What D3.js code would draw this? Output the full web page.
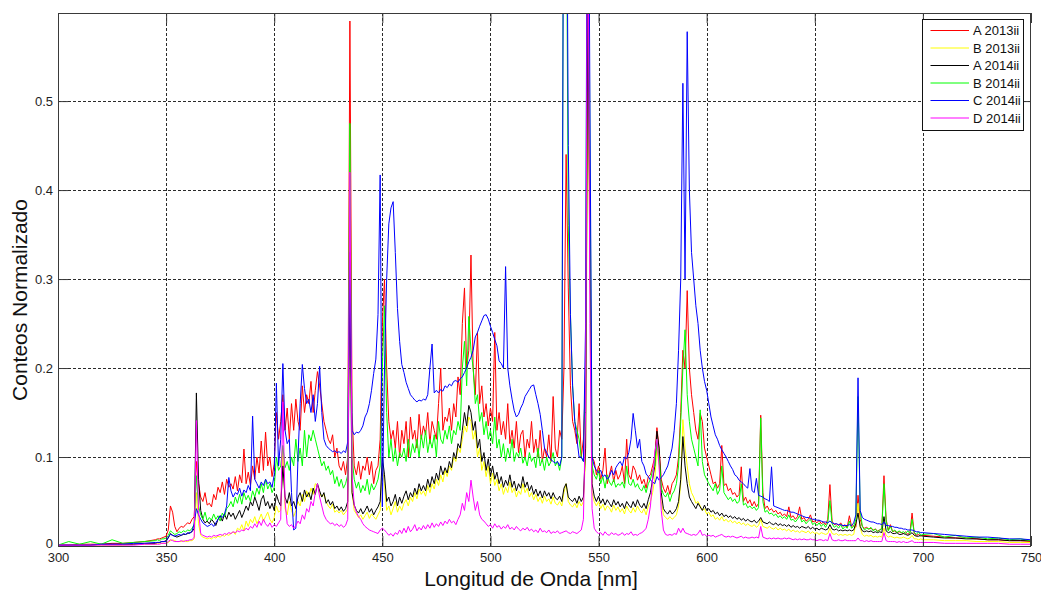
<!DOCTYPE html>
<html>
<head>
<meta charset="utf-8">
<script src="https://cdn.jsdelivr.net/npm/d3@7"></script>
<style>
  body { margin: 0; background: #fff; }
  svg { display: block; }
  text { font-family: "Liberation Sans", Arial, sans-serif; }
</style>
</head>
<body>
<svg id="chart" width="1041" height="591"></svg>
<script>
// Wavelength samples [nm]: coarse at the ends, 1 nm through the emission region
const wlLow = [300, 305, 310, 315, 320, 325, 330, 335, 340, 345];
const wlHigh = [705, 710, 715, 720, 725, 730, 735, 740, 745, 750];
const wavelength = wlLow.concat(d3.range(346, 701), wlHigh);

const seriesNames = ["A 2013ii", "B 2013ii", "A 2014ii", "B 2014ii", "C 2014ii", "D 2014ii"];
const seriesColors = ["#ff0000", "#ffff00", "#000000", "#00ff00", "#0000ff", "#ff00ff"];

const xTicks = [300, 350, 400, 450, 500, 550, 600, 650, 700, 750];
const yTicks = [0, 0.1, 0.2, 0.3, 0.4, 0.5];
const yTickLabels = ["0", "0.1", "0.2", "0.3", "0.4", "0.5"];

// Normalised counts, one value per wavelength sample
const a2013 = [
  0.001,0.001,0.002,0.002,0.002,0.003,0.003,0.004,0.005,0.007,
  0.008,0.008,0.009,0.010,
  0.011,0.018,0.045,0.038,0.022,0.016,0.02,0.022,0.021,0.024,
  0.026,0.025,0.03,0.033,0.095,0.07,0.055,0.05,0.06,0.046,
  0.048,0.044,0.058,0.052,0.066,0.06,0.072,0.058,0.075,0.066,
  0.07,0.064,0.078,0.062,0.08,0.071,0.109,0.07,0.083,0.068,
  0.09,0.075,0.1,0.082,0.118,0.085,0.128,0.09,0.1,0.078,
  0.092,0.15,0.12,0.14,0.17,0.13,0.155,0.12,0.16,0.13,
  0.165,0.14,0.13,0.18,0.15,0.17,0.16,0.185,0.15,0.175,
  0.196,0.18,0.16,0.14,0.13,0.12,0.115,0.125,0.1,0.11,
  0.09,0.085,0.095,0.08,0.1,0.59,0.15,0.09,0.08,0.095,
  0.075,0.09,0.085,0.1,0.08,0.095,0.07,0.085,0.09,0.12,
  0.25,0.3,0.2,0.14,0.12,0.13,0.11,0.14,0.1,0.13,
  0.115,0.14,0.1,0.145,0.12,0.13,0.11,0.148,0.12,0.135,
  0.125,0.15,0.115,0.14,0.13,0.12,0.16,0.2,0.13,0.145,
  0.14,0.155,0.13,0.16,0.145,0.19,0.17,0.25,0.29,0.2,
  0.22,0.327,0.2,0.17,0.24,0.16,0.18,0.145,0.16,0.135,
  0.155,0.14,0.24,0.13,0.15,0.125,0.14,0.12,0.16,0.115,
  0.13,0.11,0.14,0.105,0.125,0.13,0.1,0.12,0.11,0.14,
  0.105,0.12,0.1,0.13,0.095,0.11,0.1,0.125,0.095,0.168,
  0.11,0.1,0.13,0.12,0.2,0.44,0.29,0.18,0.14,0.13,
  0.115,0.16,0.1,0.12,0.19,0.7,0.35,0.1,0.095,0.08,
  0.09,0.075,0.085,0.11,0.07,0.08,0.09,0.072,0.085,0.075,
  0.08,0.09,0.07,0.12,0.08,0.075,0.09,0.085,0.074,0.08,
  0.07,0.075,0.065,0.078,0.08,0.09,0.1,0.133,0.11,0.075,
  0.065,0.06,0.068,0.058,0.07,0.074,0.08,0.1,0.15,0.22,
  0.2,0.287,0.2,0.17,0.15,0.13,0.12,0.149,0.14,0.11,
  0.1,0.09,0.08,0.07,0.072,0.065,0.07,0.113,0.068,0.07,
  0.062,0.065,0.058,0.06,0.055,0.058,0.089,0.05,0.055,0.048,
  0.052,0.045,0.05,0.044,0.048,0.147,0.06,0.042,0.045,0.04,
  0.042,0.038,0.04,0.036,0.038,0.034,0.036,0.033,0.044,0.032,
  0.034,0.03,0.033,0.044,0.03,0.032,0.028,0.03,0.035,0.027,
  0.028,0.026,0.029,0.025,0.027,0.024,0.03,0.069,0.028,0.024,
  0.025,0.023,0.026,0.022,0.024,0.021,0.034,0.022,0.023,0.021,
  0.057,0.03,0.022,0.02,0.021,0.019,0.02,0.018,0.019,0.017,
  0.018,0.02,0.079,0.03,0.018,0.024,0.016,0.017,0.015,0.016,
  0.015,0.014,0.016,0.013,0.015,0.037,0.014,0.012,0.013,0.011,
  0.012,
  0.011,0.01,0.009,0.009,0.008,0.007,0.007,0.006,0.006,0.005
];

const b2013 = [
  0.001,0.001,0.001,0.001,0.001,0.001,0.001,0.002,0.002,0.002,
  0.003,0.003,0.003,0.003,
  0.003,0.004,0.006,0.007,0.006,0.005,0.005,0.005,0.006,0.005,
  0.005,0.006,0.006,0.008,0.06,0.025,0.012,0.01,0.009,0.008,
  0.009,0.008,0.01,0.009,0.011,0.01,0.012,0.011,0.013,0.012,
  0.014,0.016,0.013,0.02,0.018,0.024,0.017,0.028,0.022,0.03,
  0.026,0.033,0.025,0.03,0.036,0.028,0.033,0.038,0.03,0.026,
  0.032,0.045,0.038,0.04,0.11,0.042,0.035,0.05,0.04,0.033,
  0.04,0.05,0.045,0.058,0.05,0.062,0.055,0.065,0.058,0.07,
  0.068,0.06,0.055,0.058,0.05,0.045,0.042,0.047,0.038,0.04,
  0.037,0.04,0.035,0.038,0.042,0.35,0.06,0.04,0.036,0.032,
  0.035,0.03,0.034,0.038,0.031,0.036,0.033,0.03,0.035,0.04,
  0.09,0.07,0.04,0.045,0.035,0.042,0.05,0.038,0.045,0.04,
  0.048,0.052,0.045,0.055,0.05,0.06,0.053,0.064,0.058,0.062,
  0.056,0.068,0.06,0.07,0.064,0.075,0.068,0.08,0.072,0.085,
  0.078,0.09,0.085,0.1,0.095,0.11,0.105,0.12,0.135,0.128,
  0.145,0.14,0.12,0.13,0.1,0.11,0.085,0.095,0.078,0.09,
  0.07,0.082,0.068,0.075,0.062,0.07,0.058,0.066,0.06,0.072,
  0.06,0.065,0.055,0.062,0.058,0.07,0.06,0.065,0.055,0.06,
  0.052,0.058,0.05,0.055,0.048,0.056,0.05,0.053,0.047,0.055,
  0.048,0.046,0.05,0.045,0.06,0.07,0.05,0.046,0.044,0.048,
  0.043,0.05,0.045,0.05,0.1,0.51,0.33,0.06,0.05,0.045,
  0.05,0.042,0.047,0.04,0.045,0.043,0.038,0.046,0.04,0.044,
  0.038,0.042,0.036,0.045,0.04,0.037,0.043,0.038,0.045,0.04,
  0.037,0.042,0.035,0.045,0.05,0.06,0.075,0.11,0.09,0.05,
  0.035,0.032,0.03,0.033,0.03,0.032,0.035,0.045,0.07,0.142,
  0.11,0.09,0.07,0.06,0.055,0.048,0.05,0.045,0.04,0.042,
  0.036,0.038,0.033,0.035,0.03,0.032,0.029,0.033,0.028,0.03,
  0.027,0.029,0.026,0.028,0.025,0.027,0.024,0.026,0.023,0.025,
  0.023,0.022,0.024,0.021,0.023,0.03,0.022,0.021,0.02,0.022,
  0.02,0.019,0.021,0.018,0.02,0.018,0.019,0.017,0.019,0.016,
  0.018,0.016,0.017,0.015,0.017,0.016,0.015,0.017,0.014,0.016,
  0.014,0.015,0.013,0.015,0.014,0.013,0.014,0.02,0.014,0.013,
  0.014,0.012,0.013,0.012,0.013,0.012,0.013,0.012,0.013,0.025,
  0.048,0.02,0.013,0.011,0.012,0.011,0.012,0.01,0.011,0.01,
  0.011,0.01,0.02,0.012,0.01,0.011,0.01,0.009,0.01,0.009,
  0.009,0.01,0.009,0.008,0.009,0.012,0.008,0.008,0.007,0.008,
  0.007,
  0.007,0.006,0.006,0.006,0.005,0.005,0.005,0.004,0.004,0.004
];

const a2014 = [
  0.001,0.001,0.001,0.001,0.002,0.002,0.002,0.002,0.003,0.003,
  0.004,0.004,0.005,0.005,
  0.006,0.009,0.014,0.012,0.011,0.01,0.011,0.012,0.013,0.013,
  0.014,0.015,0.016,0.02,0.172,0.075,0.04,0.03,0.026,0.028,
  0.025,0.03,0.027,0.023,0.03,0.034,0.028,0.036,0.03,0.038,
  0.033,0.037,0.03,0.035,0.04,0.032,0.038,0.045,0.04,0.05,
  0.045,0.055,0.048,0.04,0.052,0.057,0.045,0.05,0.042,0.048,
  0.04,0.058,0.05,0.045,0.09,0.055,0.048,0.06,0.045,0.05,
  0.042,0.055,0.06,0.05,0.063,0.055,0.06,0.052,0.065,0.058,
  0.07,0.062,0.055,0.06,0.048,0.052,0.046,0.05,0.042,0.045,
  0.04,0.044,0.039,0.042,0.05,0.3,0.06,0.046,0.04,0.037,
  0.042,0.036,0.04,0.045,0.038,0.042,0.035,0.04,0.044,0.05,
  0.1,0.08,0.05,0.055,0.045,0.05,0.058,0.045,0.055,0.048,
  0.056,0.062,0.052,0.06,0.055,0.065,0.058,0.07,0.062,0.068,
  0.062,0.075,0.066,0.078,0.07,0.082,0.074,0.09,0.08,0.088,
  0.082,0.095,0.088,0.105,0.098,0.115,0.11,0.13,0.15,0.135,
  0.158,0.15,0.13,0.14,0.11,0.12,0.095,0.105,0.085,0.098,
  0.078,0.09,0.075,0.083,0.07,0.078,0.066,0.074,0.068,0.08,
  0.066,0.073,0.062,0.07,0.065,0.078,0.066,0.072,0.062,0.068,
  0.058,0.064,0.056,0.062,0.054,0.062,0.056,0.06,0.053,0.06,
  0.054,0.052,0.056,0.05,0.065,0.07,0.055,0.052,0.05,0.054,
  0.048,0.056,0.05,0.055,0.11,0.6,0.36,0.07,0.056,0.05,
  0.056,0.048,0.053,0.046,0.052,0.048,0.044,0.052,0.046,0.05,
  0.044,0.048,0.042,0.05,0.046,0.043,0.05,0.044,0.052,0.046,
  0.043,0.048,0.042,0.052,0.06,0.075,0.09,0.129,0.11,0.06,
  0.042,0.038,0.036,0.04,0.036,0.038,0.042,0.05,0.075,0.123,
  0.09,0.07,0.055,0.05,0.046,0.042,0.048,0.044,0.04,0.046,
  0.04,0.042,0.038,0.04,0.036,0.038,0.034,0.037,0.033,0.035,
  0.032,0.034,0.031,0.033,0.03,0.032,0.029,0.031,0.028,0.03,
  0.028,0.027,0.029,0.026,0.028,0.032,0.027,0.026,0.025,0.027,
  0.025,0.024,0.026,0.023,0.025,0.023,0.024,0.022,0.024,0.021,
  0.023,0.021,0.022,0.02,0.022,0.021,0.02,0.022,0.019,0.021,
  0.019,0.02,0.018,0.02,0.019,0.018,0.019,0.024,0.019,0.018,
  0.019,0.017,0.018,0.017,0.018,0.017,0.018,0.017,0.018,0.025,
  0.037,0.022,0.017,0.016,0.017,0.016,0.017,0.015,0.016,0.015,
  0.016,0.015,0.033,0.017,0.015,0.016,0.014,0.014,0.015,0.013,
  0.013,0.014,0.013,0.012,0.013,0.015,0.012,0.011,0.011,0.012,
  0.011,
  0.01,0.009,0.009,0.008,0.008,0.007,0.007,0.006,0.006,0.006
];

const b2014 = [
  0.001,0.005,0.002,0.005,0.002,0.007,0.003,0.004,0.005,0.006,
  0.007,0.006,0.008,0.008,
  0.009,0.012,0.017,0.015,0.013,0.014,0.016,0.015,0.017,0.016,
  0.018,0.017,0.02,0.024,0.079,0.045,0.035,0.03,0.038,0.028,
  0.032,0.029,0.036,0.03,0.034,0.028,0.037,0.033,0.042,0.045,
  0.05,0.044,0.055,0.048,0.058,0.047,0.06,0.052,0.057,0.05,
  0.062,0.055,0.065,0.058,0.07,0.06,0.075,0.064,0.07,0.06,
  0.066,0.1,0.085,0.09,0.113,0.088,0.095,0.085,0.1,0.09,
  0.12,0.095,0.11,0.09,0.13,0.1,0.125,0.118,0.13,0.12,
  0.11,0.1,0.09,0.095,0.085,0.09,0.08,0.085,0.07,0.078,
  0.067,0.075,0.065,0.07,0.08,0.475,0.1,0.075,0.065,0.072,
  0.06,0.068,0.062,0.075,0.058,0.07,0.063,0.068,0.075,0.09,
  0.2,0.27,0.15,0.1,0.12,0.095,0.11,0.09,0.105,0.1,
  0.11,0.095,0.12,0.1,0.115,0.105,0.12,0.1,0.125,0.11,
  0.13,0.105,0.12,0.11,0.125,0.1,0.14,0.12,0.115,0.13,
  0.12,0.135,0.115,0.13,0.125,0.14,0.13,0.2,0.23,0.18,
  0.258,0.22,0.2,0.16,0.17,0.14,0.15,0.125,0.14,0.12,
  0.13,0.115,0.145,0.11,0.12,0.1,0.115,0.095,0.11,0.1,
  0.12,0.095,0.105,0.1,0.11,0.093,0.1,0.09,0.105,0.095,
  0.1,0.088,0.11,0.09,0.098,0.085,0.1,0.09,0.095,0.105,
  0.09,0.095,0.085,0.1,0.95,0.8,0.36,0.26,0.18,0.14,
  0.13,0.12,0.1,0.095,0.2,0.9,0.45,0.09,0.08,0.075,
  0.085,0.07,0.078,0.065,0.08,0.072,0.068,0.075,0.066,0.07,
  0.068,0.072,0.065,0.09,0.07,0.068,0.075,0.066,0.07,0.064,
  0.062,0.068,0.06,0.07,0.075,0.085,0.09,0.12,0.1,0.065,
  0.058,0.055,0.06,0.05,0.058,0.062,0.07,0.09,0.14,0.2,
  0.243,0.17,0.14,0.12,0.11,0.1,0.09,0.153,0.095,0.08,
  0.075,0.07,0.066,0.062,0.07,0.058,0.063,0.09,0.06,0.056,
  0.052,0.055,0.05,0.053,0.048,0.05,0.07,0.046,0.048,0.043,
  0.045,0.042,0.044,0.04,0.043,0.144,0.05,0.038,0.04,0.036,
  0.037,0.034,0.036,0.032,0.034,0.031,0.033,0.03,0.035,0.029,
  0.03,0.027,0.03,0.034,0.027,0.029,0.025,0.028,0.03,0.024,
  0.026,0.023,0.026,0.022,0.025,0.021,0.026,0.051,0.025,0.021,
  0.023,0.02,0.024,0.019,0.022,0.02,0.028,0.02,0.022,0.03,
  0.168,0.04,0.022,0.018,0.02,0.019,0.021,0.017,0.019,0.016,
  0.018,0.019,0.07,0.028,0.017,0.022,0.016,0.018,0.015,0.017,
  0.015,0.016,0.014,0.017,0.014,0.03,0.015,0.013,0.016,0.012,
  0.013,
  0.014,0.01,0.012,0.009,0.01,0.008,0.009,0.007,0.008,0.006
];

const c2014 = [
  0.001,0.001,0.001,0.001,0.002,0.002,0.002,0.003,0.003,0.004,
  0.004,0.004,0.005,0.005,
  0.005,0.01,0.013,0.012,0.011,0.012,0.013,0.012,0.014,0.013,
  0.015,0.014,0.017,0.025,0.042,0.035,0.03,0.026,0.024,0.022,
  0.023,0.025,0.022,0.026,0.03,0.034,0.032,0.036,0.045,0.077,
  0.062,0.055,0.06,0.058,0.065,0.056,0.063,0.06,0.068,0.062,
  0.146,0.075,0.07,0.065,0.072,0.068,0.075,0.07,0.072,0.066,
  0.08,0.183,0.09,0.12,0.205,0.13,0.115,0.12,0.06,0.018,
  0.02,0.1,0.16,0.204,0.177,0.16,0.165,0.15,0.17,0.14,
  0.16,0.202,0.15,0.12,0.113,0.11,0.108,0.106,0.107,0.105,
  0.106,0.104,0.107,0.105,0.117,0.33,0.13,0.125,0.128,0.127,
  0.13,0.135,0.145,0.15,0.16,0.175,0.194,0.21,0.26,0.417,
  0.044,0.2,0.3,0.362,0.38,0.387,0.33,0.267,0.23,0.204,
  0.195,0.184,0.177,0.17,0.167,0.164,0.162,0.164,0.163,0.165,
  0.164,0.17,0.2,0.227,0.172,0.175,0.172,0.176,0.174,0.18,
  0.178,0.182,0.18,0.185,0.186,0.184,0.188,0.19,0.195,0.2,
  0.207,0.212,0.22,0.235,0.24,0.247,0.253,0.259,0.26,0.255,
  0.247,0.24,0.232,0.225,0.208,0.205,0.2,0.314,0.2,0.18,
  0.165,0.152,0.145,0.148,0.155,0.16,0.168,0.172,0.176,0.18,
  0.181,0.17,0.16,0.148,0.13,0.11,0.105,0.1,0.097,0.095,
  0.093,0.095,0.09,0.1,0.95,0.9,0.45,0.26,0.18,0.14,
  0.12,0.1,0.1,0.095,0.25,0.95,0.5,0.1,0.09,0.085,
  0.082,0.085,0.078,0.08,0.075,0.078,0.085,0.08,0.088,0.092,
  0.095,0.09,0.1,0.098,0.105,0.12,0.149,0.13,0.11,0.12,
  0.095,0.09,0.081,0.078,0.074,0.072,0.07,0.078,0.074,0.077,
  0.08,0.085,0.09,0.1,0.11,0.13,0.16,0.22,0.3,0.52,
  0.3,0.578,0.4,0.33,0.3,0.27,0.25,0.22,0.2,0.185,
  0.175,0.16,0.145,0.135,0.125,0.12,0.113,0.108,0.104,0.1,
  0.095,0.09,0.086,0.08,0.078,0.074,0.072,0.07,0.067,0.065,
  0.087,0.062,0.06,0.076,0.057,0.056,0.055,0.053,0.052,0.05,
  0.089,0.045,0.044,0.043,0.042,0.041,0.04,0.04,0.039,0.038,
  0.038,0.037,0.036,0.035,0.034,0.033,0.032,0.032,0.031,0.03,
  0.03,0.029,0.029,0.028,0.027,0.027,0.026,0.028,0.026,0.025,
  0.025,0.024,0.024,0.023,0.023,0.023,0.024,0.023,0.026,0.035,
  0.189,0.04,0.032,0.03,0.029,0.028,0.027,0.027,0.026,0.025,
  0.025,0.024,0.027,0.023,0.023,0.022,0.022,0.021,0.021,0.02,
  0.02,0.019,0.019,0.018,0.018,0.018,0.017,0.016,0.016,0.015,
  0.015,
  0.014,0.013,0.012,0.011,0.01,0.01,0.009,0.008,0.008,0.007
];

const d2014 = [
  0.001,0.001,0.001,0.001,0.001,0.001,0.001,0.001,0.002,0.002,
  0.002,0.002,0.003,0.003,
  0.003,0.005,0.007,0.006,0.005,0.005,0.005,0.006,0.005,0.006,
  0.006,0.007,0.007,0.01,0.141,0.04,0.014,0.012,0.011,0.01,
  0.011,0.01,0.012,0.011,0.012,0.013,0.012,0.014,0.013,0.015,
  0.014,0.016,0.015,0.017,0.016,0.018,0.017,0.02,0.018,0.022,
  0.02,0.025,0.021,0.028,0.023,0.03,0.025,0.022,0.026,0.021,
  0.024,0.022,0.026,0.03,0.162,0.05,0.025,0.022,0.024,0.02,
  0.023,0.028,0.025,0.035,0.03,0.042,0.038,0.05,0.045,0.06,
  0.07,0.055,0.045,0.035,0.03,0.027,0.025,0.026,0.023,0.025,
  0.022,0.024,0.021,0.023,0.03,0.42,0.08,0.046,0.038,0.033,
  0.03,0.025,0.022,0.02,0.018,0.017,0.016,0.015,0.014,0.018,
  0.02,0.018,0.015,0.012,0.014,0.011,0.015,0.013,0.018,0.014,
  0.02,0.015,0.022,0.016,0.019,0.024,0.017,0.021,0.018,0.023,
  0.019,0.024,0.02,0.026,0.021,0.025,0.022,0.027,0.023,0.028,
  0.025,0.03,0.026,0.028,0.024,0.03,0.035,0.048,0.04,0.06,
  0.05,0.074,0.055,0.04,0.05,0.035,0.03,0.028,0.025,0.022,
  0.024,0.02,0.025,0.021,0.023,0.019,0.022,0.02,0.024,0.019,
  0.021,0.018,0.022,0.019,0.017,0.02,0.018,0.021,0.017,0.019,
  0.016,0.018,0.015,0.02,0.016,0.017,0.015,0.018,0.014,0.016,
  0.015,0.017,0.014,0.015,0.016,0.017,0.015,0.014,0.016,0.015,
  0.014,0.016,0.018,0.03,0.15,0.8,0.25,0.042,0.02,0.016,
  0.014,0.015,0.012,0.016,0.013,0.012,0.015,0.013,0.014,0.012,
  0.013,0.015,0.012,0.014,0.013,0.016,0.012,0.013,0.012,0.014,
  0.015,0.017,0.02,0.03,0.045,0.075,0.105,0.12,0.09,0.04,
  0.018,0.013,0.012,0.013,0.012,0.014,0.013,0.02,0.015,0.02,
  0.015,0.014,0.013,0.012,0.013,0.012,0.014,0.018,0.012,0.013,
  0.011,0.012,0.011,0.012,0.01,0.011,0.012,0.013,0.011,0.01,
  0.011,0.01,0.011,0.01,0.009,0.01,0.011,0.009,0.01,0.009,
  0.009,0.01,0.009,0.01,0.009,0.022,0.01,0.009,0.008,0.009,
  0.008,0.009,0.008,0.009,0.008,0.008,0.009,0.008,0.009,0.008,
  0.007,0.008,0.007,0.008,0.007,0.008,0.007,0.007,0.008,0.007,
  0.007,0.006,0.007,0.007,0.006,0.007,0.006,0.014,0.007,0.006,
  0.006,0.007,0.006,0.006,0.007,0.006,0.006,0.006,0.006,0.006,
  0.009,0.006,0.006,0.005,0.006,0.005,0.006,0.005,0.005,0.005,
  0.005,0.005,0.015,0.006,0.005,0.005,0.005,0.005,0.004,0.005,
  0.004,0.005,0.004,0.004,0.005,0.006,0.004,0.004,0.004,0.004,
  0.004,
  0.004,0.003,0.003,0.003,0.003,0.003,0.003,0.002,0.002,0.002
];

const seriesValues = [a2013, b2013, a2014, b2014, c2014, d2014];

// ---- layout ----
const plot = { left: 58, top: 13, right: 1031, bottom: 546 };
const svg = d3.select("#chart");

const x = d3.scaleLinear().domain([300, 750]).range([plot.left, plot.right]);
const y = d3.scaleLinear().domain([0, 0.599]).range([plot.bottom, plot.top]);

const axisColor = "#3a3a3a";
const tickLen = 10;

// dotted grid
const grid = svg.append("g").attr("stroke", "#2b2b2b").attr("stroke-width", 1)
  .attr("stroke-dasharray", "3,2");
grid.selectAll("line.gx").data(xTicks.slice(1, -1)).join("line")
  .attr("x1", d => Math.round(x(d)) + 0.5).attr("x2", d => Math.round(x(d)) + 0.5)
  .attr("y1", plot.top).attr("y2", plot.bottom);
grid.selectAll("line.gy").data(yTicks.slice(1)).join("line")
  .attr("y1", d => Math.round(y(d)) + 0.5).attr("y2", d => Math.round(y(d)) + 0.5)
  .attr("x1", plot.left).attr("x2", plot.right);

// spectra
svg.append("defs").append("clipPath").attr("id", "plotClip")
  .append("rect").attr("x", plot.left).attr("y", plot.top)
  .attr("width", plot.right - plot.left).attr("height", plot.bottom - plot.top);

const line = d3.line().x(d => x(d[0])).y(d => y(d[1]));
const lines = svg.append("g").attr("clip-path", "url(#plotClip)");
seriesValues.forEach((vals, i) => {
  const pts = wavelength.map((w, k) => [w, vals[k]]).filter(p => p[1] !== undefined);
  lines.append("path").datum(pts)
    .attr("fill", "none").attr("stroke", seriesColors[i]).attr("stroke-width", 1)
    .attr("stroke-linejoin", "round").attr("d", line);
});

// axes with inward ticks on all four sides
function styleAxis(g) {
  g.select(".domain").remove();
  g.selectAll(".tick line").attr("stroke", axisColor);
  g.selectAll(".tick text").attr("fill", "#1e1e1e").attr("font-size", 13)
    .attr("font-family", "'Liberation Sans', Arial, sans-serif");
}
svg.append("g").attr("transform", `translate(0,${plot.bottom})`)
  .call(d3.axisBottom(x).tickValues(xTicks).tickSize(-tickLen).tickPadding(7).tickFormat(d3.format("d")))
  .call(styleAxis);
svg.append("g").attr("transform", `translate(0,${plot.top})`)
  .call(d3.axisTop(x).tickValues(xTicks).tickSize(-tickLen).tickFormat(""))
  .call(styleAxis);
const yAxisG = svg.append("g").attr("transform", `translate(${plot.left},0)`)
  .call(d3.axisLeft(y).tickValues(yTicks).tickSize(-tickLen).tickPadding(5)
    .tickFormat((d, i) => yTickLabels[i]))
  .call(styleAxis);
// lift the zero label a touch so it clears the first x label
yAxisG.selectAll(".tick text").filter(d => d === 0).attr("dy", "0.1em");
svg.append("g").attr("transform", `translate(${plot.right},0)`)
  .call(d3.axisRight(y).tickValues(yTicks).tickSize(-tickLen).tickFormat(""))
  .call(styleAxis);

// frame
svg.append("rect")
  .attr("x", plot.left + 0.5).attr("y", plot.top + 0.5)
  .attr("width", plot.right - plot.left - 1).attr("height", plot.bottom - plot.top)
  .attr("fill", "none").attr("stroke", axisColor).attr("stroke-width", 1);

// axis titles
svg.append("text")
  .attr("x", 531).attr("y", 586)
  .attr("text-anchor", "middle").attr("font-size", 21).attr("fill", "#111")
  .text("Longitud de Onda [nm]");
svg.append("text")
  .attr("transform", "translate(27,300) rotate(-90)")
  .attr("text-anchor", "middle").attr("font-size", 21).attr("fill", "#111")
  .text("Conteos Normalizado");

// legend
const legend = svg.append("g").attr("transform", "translate(922.5,19.5)");
legend.append("rect").attr("width", 101).attr("height", 111)
  .attr("fill", "#fff").attr("stroke", "#111").attr("stroke-width", 1);
seriesNames.forEach((name, i) => {
  const cy = 11 + i * 17.5;
  legend.append("line").attr("x1", 8).attr("x2", 46.5).attr("y1", cy).attr("y2", cy)
    .attr("stroke", seriesColors[i]).attr("stroke-width", 1);
  legend.append("text").attr("x", 50.5).attr("y", cy + 4.5)
    .attr("font-size", 13).attr("fill", "#111").text(name);
});
</script>
</body>
</html>
